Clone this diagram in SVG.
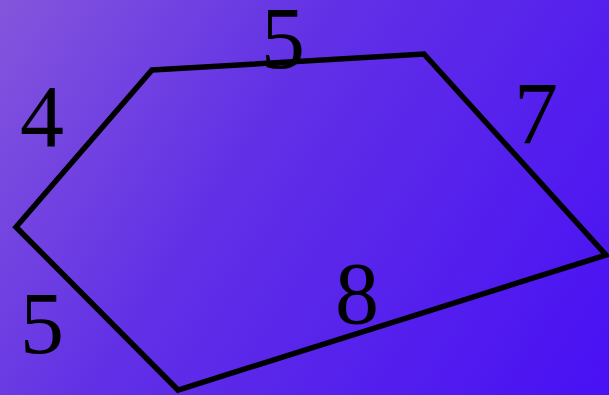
<svg xmlns="http://www.w3.org/2000/svg" width="609" height="395" viewBox="0 0 609 395">
<style>
.lbl{font-family:"Liberation Serif","Times New Roman",serif;font-size:88px;fill:#000;text-anchor:middle}
.edge{fill:none;stroke:#000;stroke-width:5.5;stroke-linejoin:miter}
</style>
<defs>
<linearGradient id="bg" x1="0" y1="0" x2="609" y2="395" gradientUnits="userSpaceOnUse">
<stop offset="0" stop-color="#8456dc"/>
<stop offset="0.4" stop-color="#6130e6"/>
<stop offset="1" stop-color="#4810f4"/>
</linearGradient>
</defs>
<rect width="609" height="395" fill="url(#bg)"/>
<g id="connectors">
<polygon class="edge" points="152,70 424,54 606,255 178,390 16,227"/>
</g>
<g id="label-top"><text class="lbl" x="283" y="68">5</text></g>
<g id="label-left-top"><text class="lbl" x="42" y="146">4</text></g>
<g id="label-right"><text class="lbl" x="536" y="143">7</text></g>
<g id="label-bottom"><text class="lbl" x="357" y="323">8</text></g>
<g id="label-left-bottom"><text class="lbl" x="42" y="353">5</text></g>
</svg>
